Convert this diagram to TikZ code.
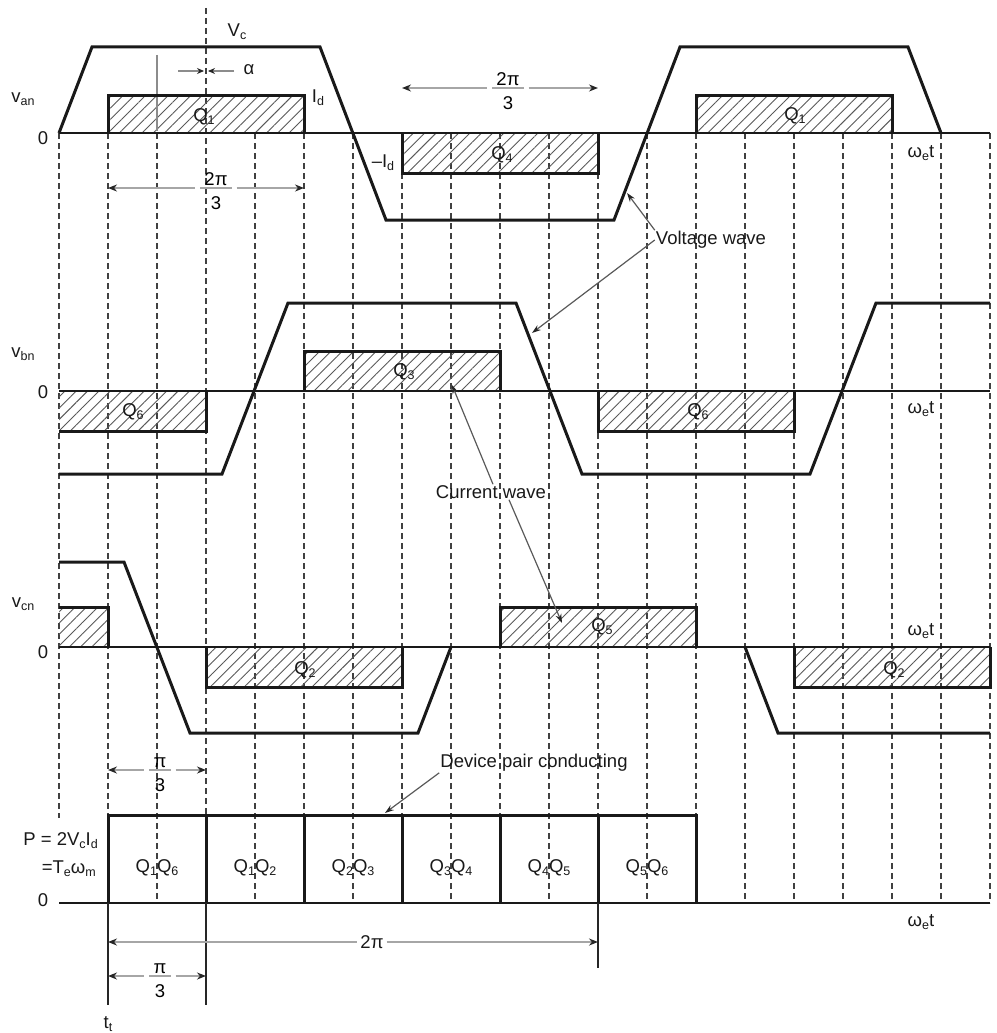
\documentclass[tikz,border=0pt]{standalone}
\usepackage{fontspec}
\setmainfont{Liberation Sans}
\usetikzlibrary{arrows.meta,patterns.meta}
\newcommand\sbs[1]{\raisebox{-0.32ex}{\fontsize{12.5}{13}\selectfont #1}}
\newcommand\dimfrac[7]{%
  \coordinate (#1L) at (#2,#4);
  \coordinate (#1R) at (#3,#4);
  \node[anchor=south,inner xsep=4pt,inner ysep=2pt] (#1N) at (#5,#4) {#6};
  \node[anchor=north,inner sep=0pt] (#1D) at (#5,#4+8) {#7};
  \draw[dimline] (#1N.south west) -- (#1N.south east);
  \draw[dimline,<-] (#1L) -- ([xshift=-5pt]#1N.south west);
  \draw[dimline,->] ([xshift=5pt]#1N.south east) -- (#1R);
}
\begin{document}
\begin{tikzpicture}[x=1pt,y=-1pt,font=\fontsize{18.5}{22}\selectfont,
  grid/.style={line width=1.4pt,black!75,dash pattern=on 6pt off 4pt},
  wave/.style={line width=3pt,black!90},
  edge/.style={line width=3pt,black!90},
  axis/.style={line width=2pt,black!90},
  cur/.style={pattern={Lines[angle=45,distance=8pt,line width=0.9pt]},pattern color=black!65},
  dimline/.style={line width=2pt,black!35,>={Stealth[length=9pt,width=7pt,color=black!85]}},
  smalldim/.style={line width=1.3pt,black!45,->,>={Stealth[length=7pt,width=6pt,color=black!85]}},
  call/.style={line width=1.2pt,black!65,-{Stealth[length=9pt,width=6pt,color=black!85]}},
  thinv/.style={line width=1.2pt,black!85},
  lbl/.style={inner sep=1pt,text=black!90}]
\useasboundingbox (0,0) rectangle (996,1033);

% ---------- grid ----------
\draw[grid] (59,133) -- (59,818);
\draw[grid] (206,8) -- (206,903);
\foreach \k in {1,2,4,5,...,19} \draw[grid] ({59+49*\k},133) -- ({59+49*\k},903);

% ---------- phase a ----------
\fill[cur] (108,133) rectangle (304,95);
\fill[cur] (402,133) rectangle (598,173);
\fill[cur] (696,133) rectangle (892,95);
\draw[line width=1.2pt,black!45] (157,55) -- (157,131);
\draw[edge] (108,133) -- (108,95) -- (304,95) -- (304,133);
\draw[edge] (402,133) -- (402,173) -- (598,173) -- (598,133);
\draw[edge] (696,133) -- (696,95) -- (892,95) -- (892,133);
\draw[axis] (59,133) -- (990,133);
\draw[wave] (59,133) -- (92,47) -- (320,47) -- (386,220) -- (614,220) -- (680,47) -- (908,47) -- (941,133);

\node[lbl] (van) at (23,99) {v\sbs{an}};
\node[lbl] (za) at (43,138) {0};
\node[lbl] (vc) at (237,32) {V\sbs{c}};
\node[lbl] (al) at (249,70) {α};
\node[lbl] (id) at (318,98) {I\sbs{d}};
\node[lbl] (mid) at (383,163) {–I\sbs{d}};
\node[lbl] (qa1) at (204,117) {Q\sbs{1}};
\node[lbl] (qa4) at (502,155) {Q\sbs{4}};
\node[lbl] (qa1b) at (795,116) {Q\sbs{1}};
\node[lbl] (wa) at (921,153) {ω\sbs{e}t};

\coordinate (alL) at (178,71); \coordinate (alLe) at (204,71);
\coordinate (alR) at (234,71); \coordinate (alRe) at (208,71);
\draw[smalldim] (alL) -- (alLe);
\draw[smalldim] (alR) -- (alRe);

\dimfrac{da}{108}{304}{188}{216}{2π}{3}
\dimfrac{db}{402}{598}{88}{508}{2π}{3}

% ---------- phase b ----------
\fill[cur] (59,391) rectangle (206,431);
\fill[cur] (304,391) rectangle (500,351);
\fill[cur] (598,391) rectangle (794,431);
\draw[edge] (59,431) -- (206,431) -- (206,391);
\draw[edge] (304,391) -- (304,351) -- (500,351) -- (500,391);
\draw[edge] (598,391) -- (598,431) -- (794,431) -- (794,391);
\draw[axis] (59,391) -- (990,391);
\draw[wave] (59,474) -- (222,474) -- (288,303) -- (516,303) -- (582,474) -- (810,474) -- (876,303) -- (990,303);

\node[lbl] (vbn) at (23,354) {v\sbs{bn}};
\node[lbl] (zb) at (43,392) {0};
\node[lbl] (qb6) at (133,412) {Q\sbs{6}};
\node[lbl] (qb3) at (404,372) {Q\sbs{3}};
\node[lbl] (qb6b) at (698,412) {Q\sbs{6}};
\node[lbl] (wb) at (921,409) {ω\sbs{e}t};

% ---------- phase c ----------
\fill[cur] (59,647) rectangle (108,607);
\fill[cur] (206,647) rectangle (402,687);
\fill[cur] (500,647) rectangle (696,607);
\fill[cur] (794,647) rectangle (990,687);
\draw[edge] (59,607) -- (108,607) -- (108,647);
\draw[edge] (206,647) -- (206,687) -- (402,687) -- (402,647);
\draw[edge] (500,647) -- (500,607) -- (696,607) -- (696,647);
\draw[edge] (794,647) -- (794,687) -- (990,687) -- (990,647);
\draw[axis] (59,647) -- (990,647);
\draw[wave] (59,562) -- (124,562) -- (190,733) -- (418,733) -- (451,647);
\draw[wave] (745,647) -- (778,733) -- (990,733);

\node[lbl] (vcn) at (23,604) {v\sbs{cn}};
\node[lbl] (zc) at (43,652) {0};
\node[lbl] (qc2) at (305,670) {Q\sbs{2}};
\node[lbl] (qc5) at (602,627) {Q\sbs{5}};
\node[lbl] (qc2b) at (894,670) {Q\sbs{2}};
\node[lbl] (wc) at (921,631) {ω\sbs{e}t};

% ---------- power ----------
\draw[edge] (108,903) -- (108,815) -- (696,815) -- (696,903);
\foreach \x in {206,304,402,500,598} \draw[edge] (\x,815) -- (\x,903);
\draw[axis] (59,903) -- (990,903);
\draw[thinv] (108,903) -- (108,1005);
\draw[thinv] (206,903) -- (206,1005);
\draw[thinv] (598,903) -- (598,968);

\node[lbl,anchor=east] (pp) at (99,841) {P = 2V\sbs{c}I\sbs{d}};
\node[lbl,anchor=east] (pt) at (97,869) {=T\sbs{e}ω\sbs{m}};
\node[lbl] (zp) at (43,900) {0};
\node[lbl] (wp) at (921,922) {ω\sbs{e}t};
\foreach \i/\a/\b in {0/1/6,1/1/2,2/2/3,3/3/4,4/4/5,5/5/6}
  \node[lbl] (pq\i) at ({157+98*\i},868) {Q\sbs{\a}Q\sbs{\b}};
\node[lbl] (tt) at (108,1024) {t\sbs{t}};

\dimfrac{dp}{108}{206}{770}{160}{π}{3}
\dimfrac{dq}{108}{206}{976}{160}{π}{3}
\coordinate (tL) at (108,942); \coordinate (tR) at (598,942);
\node[lbl,inner xsep=3pt] (tp) at (372,942) {2π};
\draw[dimline,<-] (tL) -- (tp);
\draw[dimline,->] (tp) -- (tR);

% ---------- callouts ----------
\node[lbl] (vw) at (711,240) {Voltage wave};
\coordinate (vwA) at (627,193);
\coordinate (vwB) at (532,333);
\draw[call] (vw.north west) -- (vwA);
\draw[call] (vw.west) -- (vwB);

\node[lbl] (cw) at (491,492) {Current wave};
\coordinate (cwA) at (452,385);
\coordinate (cwB) at (562,623);
\draw[call] ([xshift=2pt]cw.north) -- (cwA);
\draw[call] ([xshift=18pt]cw.south) -- (cwB);

\node[lbl] (dpc) at (534,763) {Device pair conducting};
\coordinate (dpA) at (385,813);
\draw[call] (dpc.south west) -- (dpA);
\end{tikzpicture}
\end{document}
